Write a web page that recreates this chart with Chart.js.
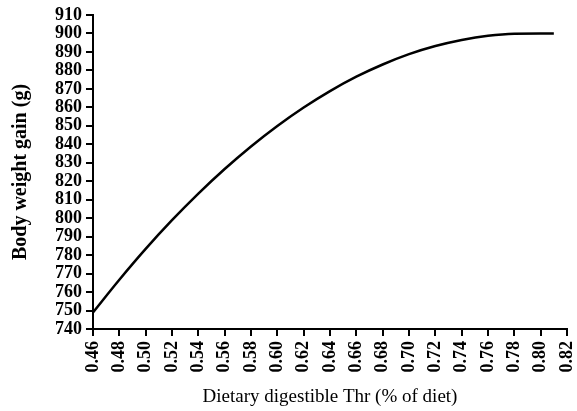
<!DOCTYPE html>
<html>
<head>
<meta charset="utf-8">
<script src="https://cdn.jsdelivr.net/npm/chart.js@4/dist/chart.umd.min.js"></script>
<style>
html,body{margin:0;padding:0;background:#fff;}
#wrap{width:577px;height:411px;position:relative;}
</style>
</head>
<body>
<div id="wrap"><canvas id="c" width="577" height="411"></canvas></div>
<script>
// Dietary digestible Thr (% of diet)
const thrLevels = [0.46, 0.48, 0.50, 0.52, 0.54, 0.56, 0.58, 0.60, 0.62, 0.64, 0.66, 0.68, 0.70, 0.72, 0.74, 0.76, 0.78, 0.80, 0.81];
// Body weight gain (g)
const weightGain = [749, 766.7, 783.4, 798.9, 813.3, 826.6, 838.8, 849.9, 859.9, 868.8, 876.6, 883.2, 888.8, 893.2, 896.5, 898.8, 899.9, 900, 900];
const xTicks = [0.46, 0.48, 0.50, 0.52, 0.54, 0.56, 0.58, 0.60, 0.62, 0.64, 0.66, 0.68, 0.70, 0.72, 0.74, 0.76, 0.78, 0.80, 0.82];
const yTicks = [740, 750, 760, 770, 780, 790, 800, 810, 820, 830, 840, 850, 860, 870, 880, 890, 900, 910];
const xTitle = 'Dietary digestible Thr (% of diet)';
const yTitle = 'Body weight gain (g)';

const serif = "'Liberation Serif', 'Times New Roman', serif";

new Chart(document.getElementById('c'), {
  type: 'line',
  data: {
    datasets: [{
      data: thrLevels.map((x, i) => ({x: x, y: weightGain[i]})),
      borderColor: '#000',
      borderWidth: 2.5,
      pointRadius: 0,
      fill: false,
      cubicInterpolationMode: 'monotone'
    }]
  },
  options: {
    responsive: false,
    animation: false,
    devicePixelRatio: 1,
    layout: {padding: {top: 15, right: 10, left: 0, bottom: 0}},
    plugins: {legend: {display: false}, tooltip: {enabled: false}},
    scales: {
      x: {
        type: 'linear',
        min: 0.46, max: 0.82,
        afterBuildTicks: s => { s.ticks = xTicks.map(v => ({value: v})); },
        afterFit: s => { s.height = 82; s.paddingLeft = 0; s.paddingRight = 0; },
        ticks: {
          minRotation: 90, maxRotation: 90,
          autoSkip: false,
          color: '#000',
          padding: 5,
          font: {family: serif, size: 18, weight: 'bold'},
          callback: v => v.toFixed(2)
        },
        grid: {display: true, drawOnChartArea: false, drawTicks: true, tickLength: 7, color: '#000', lineWidth: 2},
        border: {display: true, color: '#000', width: 2},
        title: {display: true, text: xTitle, color: '#000', font: {family: serif, size: 19}, padding: {top: 0, bottom: 3}}
      },
      y: {
        type: 'linear',
        min: 740, max: 910,
        afterBuildTicks: s => { s.ticks = yTicks.map(v => ({value: v})); },
        afterFit: s => { s.width = 93; s.paddingTop = 0; s.paddingBottom = 0; },
        ticks: {
          autoSkip: false,
          color: '#000',
          padding: 4,
          font: {family: serif, size: 18, weight: 'bold'}
        },
        grid: {display: true, drawOnChartArea: false, drawTicks: true, tickLength: 7, color: '#000', lineWidth: 2},
        border: {display: true, color: '#000', width: 2},
        title: {display: true, text: yTitle, color: '#000', font: {family: serif, size: 20, weight: 'bold'}, padding: {top: 9, bottom: 0}}
      }
    }
  }
});
</script>
</body>
</html>
